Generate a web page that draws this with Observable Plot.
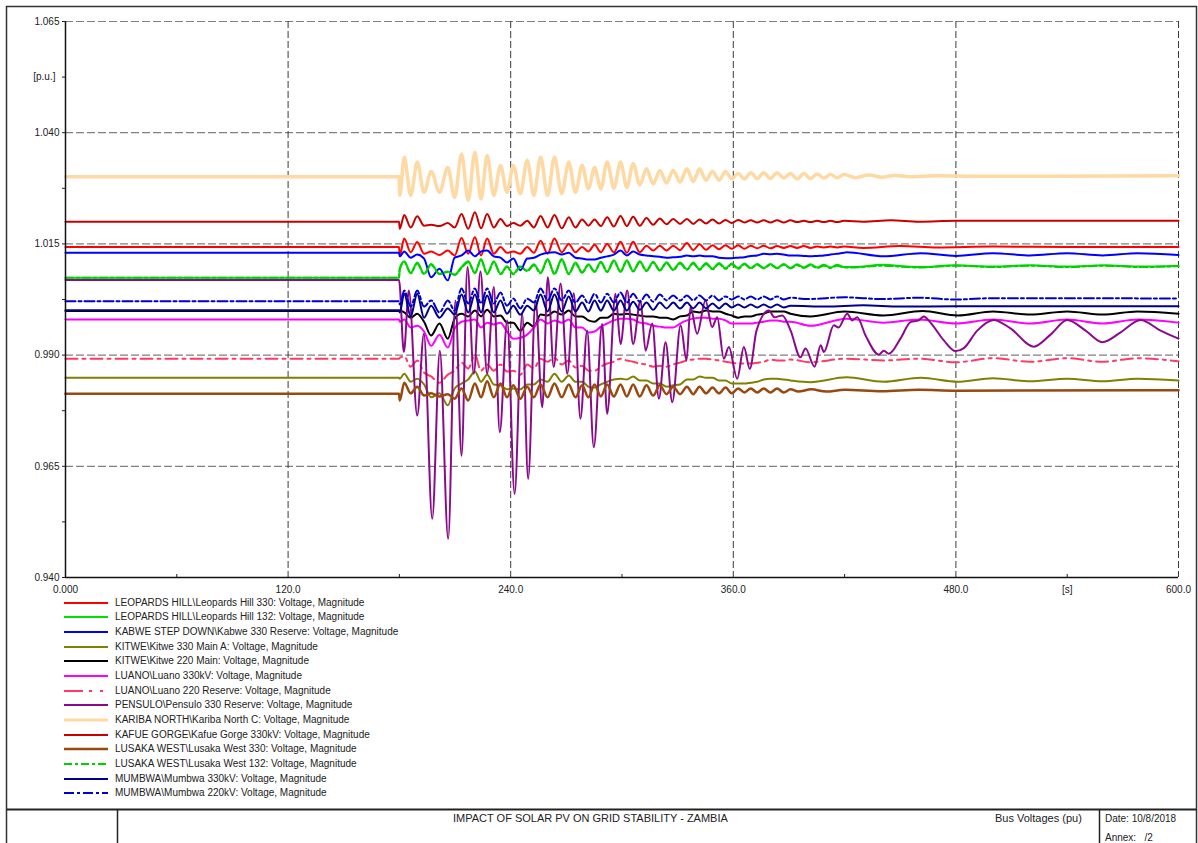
<!DOCTYPE html>
<html><head><meta charset="utf-8">
<script src="https://cdn.jsdelivr.net/npm/d3@7"></script>
<script src="https://cdn.jsdelivr.net/npm/@observablehq/plot@0.6"></script>
<style>
html,body{margin:0;padding:0;background:#fff;}
body{width:1198px;height:843px;position:relative;overflow:hidden;font-family:"Liberation Sans",Arial,sans-serif;color:#222;}
#chart{position:absolute;left:0;top:0;}
#legend{position:absolute;left:0;top:0;width:700px;}
.row{position:absolute;left:0;height:14px;width:600px;}
.row svg{position:absolute;left:64px;top:0;}
.row span{position:absolute;left:115px;top:0;font-size:10px;line-height:14px;white-space:nowrap;}
#frame{position:absolute;left:0;top:0;pointer-events:none;}
.ft{position:absolute;white-space:nowrap;line-height:13px;}
</style></head><body>
<div id="chart"></div>
<div id="legend"></div>
<svg id="frame" width="1198" height="843">
  <rect x="6.5" y="6.5" width="1190" height="850" fill="none" stroke="#333" stroke-width="1.5"/>
  <line x1="6.5" x2="1196.5" y1="809.5" y2="809.5" stroke="#222" stroke-width="2"/>
  <line x1="117.5" x2="117.5" y1="809.5" y2="843" stroke="#222" stroke-width="1.5"/>
  <line x1="1099.5" x2="1099.5" y1="809.5" y2="843" stroke="#222" stroke-width="1.5"/>
</svg>
<div class="ft" style="left:453px;top:812px;font-size:11px;">IMPACT OF SOLAR PV ON GRID STABILITY - ZAMBIA</div>
<div class="ft" style="left:995px;top:812px;font-size:11px;">Bus Voltages (pu)</div>
<div class="ft" style="left:1105px;top:812px;font-size:10px;">Date: 10/8/2018</div>
<div class="ft" style="left:1105px;top:831px;font-size:10px;">Annex:&nbsp;&nbsp; /2</div>
<script>
// ---------- axis ticks ----------
const yTicks = [0.940, 0.965, 0.990, 1.015, 1.040, 1.065];
const yMinor = [1.0525, 1.0275, 1.0025, 0.9775, 0.9525];
const xTicks = [0, 120, 240, 360, 480, 600];
const xMinor = [60, 180, 300, 420, 540];

// ---------- legend labels ----------
const names = [
  "LEOPARDS HILL\\Leopards Hill 330: Voltage, Magnitude",
  "LEOPARDS HILL\\Leopards Hill 132: Voltage, Magnitude",
  "KABWE STEP DOWN\\Kabwe 330 Reserve: Voltage, Magnitude",
  "KITWE\\Kitwe 330 Main A: Voltage, Magnitude",
  "KITWE\\Kitwe 220 Main: Voltage, Magnitude",
  "LUANO\\Luano 330kV: Voltage, Magnitude",
  "LUANO\\Luano 220 Reserve: Voltage, Magnitude",
  "PENSULO\\Pensulo 330 Reserve: Voltage, Magnitude",
  "KARIBA NORTH\\Kariba North C: Voltage, Magnitude",
  "KAFUE GORGE\\Kafue Gorge 330kV: Voltage, Magnitude",
  "LUSAKA WEST\\Lusaka West 330: Voltage, Magnitude",
  "LUSAKA WEST\\Lusaka West 132: Voltage, Magnitude",
  "MUMBWA\\Mumbwa 330kV: Voltage, Magnitude",
  "MUMBWA\\Mumbwa 220kV: Voltage, Magnitude"
];

// ---------- time of oscillation extrema (s) ----------
const T = [180.2, 182.6, 186.1, 189.6, 193.3, 197.1, 201.6, 206.1, 209.8, 213.5,
  217.1, 220.7, 224.0, 227.3, 230.9, 234.5, 238.0, 241.4, 245.2, 248.9,
  252.5, 256.1, 259.9, 263.6, 267.5, 271.3, 274.9, 278.5, 281.9, 285.2,
  288.6, 292.0, 295.6, 299.2, 302.6, 306.0, 309.6, 313.2, 316.8, 320.4,
  324.0, 327.6, 331.3, 335.0, 338.4, 341.8, 345.3, 348.8, 352.3, 355.8,
  359.2, 362.6, 366.0, 369.4, 372.9, 376.4, 380.0, 383.6, 387.2, 390.8,
  394.4, 398.0, 401.6, 405.2, 408.8, 412.4, 416.0, 419.6];

// ---------- pre-fault values (p.u.) ----------
const baseLH330 = 1.0143, baseLH132 = 1.0074, baseKabwe = 1.0130, baseKitwe330 = 0.9849,
      baseKitwe220 = 0.9999, baseLuano330 = 0.9980, baseLuano220 = 0.9892,
      baseKariba = 1.0301, baseKafue = 1.0200, baseLW330 = 0.9813, baseLW132 = 1.0074,
      baseMumbwa330 = 1.0001, baseMumbwa220 = 1.0021;

// ---------- values at T (p.u.) ----------
const lh330Osc = [1.0124, 1.0162, 1.0131, 1.0154, 1.0128, 1.0133, 1.0125, 1.0135, 1.0124, 1.0163, 1.0128, 1.0165, 1.0124, 1.0162, 1.0128, 1.0143, 1.0130, 1.0133, 1.0128, 1.0143, 1.0130, 1.0157, 1.0128, 1.0162, 1.0131, 1.0150, 1.0131, 1.0143, 1.0133, 1.0148, 1.0131, 1.0150, 1.0131, 1.0155, 1.0130, 1.0155, 1.0131, 1.0146, 1.0135, 1.0146, 1.0135, 1.0146, 1.0136, 1.0152, 1.0136, 1.0149, 1.0137, 1.0147, 1.0138, 1.0147, 1.0139, 1.0147, 1.0139, 1.0146, 1.0140, 1.0146, 1.0140, 1.0145, 1.0141, 1.0145, 1.0141, 1.0145, 1.0141, 1.0144, 1.0142, 1.0144, 1.0142, 1.0144];
const lh330Tail = [[430, 1.0141], [450, 1.0145], [470, 1.0142], [500, 1.0144], [540, 1.0143], [600, 1.0143]];

const lh132Osc = [1.0095, 1.0111, 1.0085, 1.0108, 1.0083, 1.0105, 1.0083, 1.0088, 1.0081, 1.0098, 1.0111, 1.0085, 1.0116, 1.0083, 1.0111, 1.0083, 1.0100, 1.0083, 1.0100, 1.0090, 1.0104, 1.0085, 1.0116, 1.0083, 1.0116, 1.0083, 1.0108, 1.0086, 1.0104, 1.0088, 1.0110, 1.0088, 1.0113, 1.0088, 1.0113, 1.0089, 1.0111, 1.0090, 1.0110, 1.0091, 1.0109, 1.0092, 1.0108, 1.0093, 1.0108, 1.0093, 1.0107, 1.0094, 1.0107, 1.0095, 1.0106, 1.0095, 1.0106, 1.0096, 1.0105, 1.0096, 1.0105, 1.0096, 1.0105, 1.0096, 1.0104, 1.0097, 1.0104, 1.0097, 1.0103, 1.0097, 1.0103, 1.0098];
const lh132Tail = [[425, 1.0098], [440, 1.0103], [460, 1.0098], [480, 1.0102], [500, 1.0099], [520, 1.0102], [540, 1.0099], [560, 1.0102], [580, 1.0099], [600, 1.0101]];

const kabweOsc = [1.0122, 1.0133, 1.0119, 1.0126, 1.0117, 1.0075, 1.0094, 1.0068, 1.0119, 1.0124, 1.0135, 1.0122, 1.0133, 1.0135, 1.0122, 1.0119, 1.0108, 1.0117, 1.0091, 1.0117, 1.0119, 1.0126, 1.0130, 1.0131, 1.0126, 1.0130, 1.0119, 1.0117, 1.0115, 1.0115, 1.0119, 1.0122, 1.0126, 1.0135, 1.0124, 1.0133, 1.0126, 1.0124, 1.0122, 1.0121, 1.0119, 1.0120, 1.0121, 1.0124, 1.0122, 1.0124, 1.0122, 1.0122, 1.0119, 1.0118, 1.0118, 1.0119, 1.0120, 1.0123, 1.0124, 1.0128, 1.0127, 1.0128, 1.0126, 1.0124, 1.0124, 1.0123, 1.0122, 1.0123, 1.0124, 1.0126, 1.0128, 1.0130];
const kabweTail = [[421, 1.0131], [441, 1.0122], [461, 1.0129], [480, 1.0123], [500, 1.0129], [520, 1.0124], [540, 1.0129], [559, 1.0124], [578, 1.0129], [600, 1.0125]];

const kitwe330Osc = [0.9847, 0.9858, 0.9840, 0.9847, 0.9834, 0.9805, 0.9814, 0.9787, 0.9825, 0.9836, 0.9845, 0.9863, 0.9840, 0.9856, 0.9834, 0.9832, 0.9823, 0.9825, 0.9823, 0.9834, 0.9834, 0.9845, 0.9840, 0.9858, 0.9840, 0.9854, 0.9840, 0.9840, 0.9829, 0.9827, 0.9834, 0.9840, 0.9845, 0.9847, 0.9845, 0.9852, 0.9843, 0.9843, 0.9836, 0.9836, 0.9829, 0.9832, 0.9834, 0.9845, 0.9845, 0.9852, 0.9849, 0.9849, 0.9843, 0.9843, 0.9836, 0.9836, 0.9836, 0.9838, 0.9840, 0.9845, 0.9847, 0.9847, 0.9845, 0.9843];
const kitwe330Tail = [[401.6, 0.9839], [421, 0.9850], [441, 0.9840], [461, 0.9849], [481, 0.9840], [500, 0.9848], [520, 0.9841], [540, 0.9847], [559, 0.9841], [578, 0.9847], [600, 0.9843]];

const kitwe220Osc = [1.0000, 0.9996, 0.9984, 0.9993, 0.9975, 0.9944, 0.9971, 0.9937, 0.9982, 0.9993, 0.9987, 1.0000, 0.9987, 1.0002, 0.9987, 0.9989, 0.9973, 0.9973, 0.9955, 0.9973, 0.9964, 0.9991, 0.9989, 0.9998, 0.9991, 1.0000, 0.9987, 0.9987, 0.9978, 0.9975, 0.9984, 0.9984, 0.9993, 0.9991, 0.9993, 0.9991, 0.9989, 0.9987, 0.9987, 0.9984, 0.9984, 0.9980, 0.9987, 0.9989, 0.9998, 0.9996, 1.0000, 0.9998, 0.9998, 0.9993, 0.9989, 0.9984, 0.9987, 0.9987, 0.9991, 0.9993, 0.9998, 0.9998, 0.9998, 0.9993];
const kitwe220Tail = [[401.6, 0.9987], [420, 0.9998], [441, 0.9989], [462, 0.9999], [481, 0.9989], [500, 0.9998], [520, 0.9991], [540, 0.9998], [559, 0.9991], [578, 0.9998], [600, 0.9993]];

const luano330Osc = [0.9975, 0.9980, 0.9962, 0.9966, 0.9953, 0.9921, 0.9946, 0.9917, 0.9960, 0.9975, 0.9978, 0.9980, 0.9962, 0.9973, 0.9969, 0.9973, 0.9953, 0.9937, 0.9939, 0.9946, 0.9962, 0.9980, 0.9971, 0.9978, 0.9973, 0.9980, 0.9962, 0.9962, 0.9951, 0.9953, 0.9964, 0.9971, 0.9978, 0.9982, 0.9982, 0.9980, 0.9973, 0.9971, 0.9966, 0.9964, 0.9962, 0.9962, 0.9971, 0.9978, 0.9982, 0.9984, 0.9984, 0.9982, 0.9982, 0.9978, 0.9971, 0.9971, 0.9971, 0.9971, 0.9973, 0.9975, 0.9978, 0.9978, 0.9975, 0.9975];
const luano330Tail = [[401.6, 0.9966], [421, 0.9982], [441, 0.9973], [460, 0.9980], [480, 0.9971], [500, 0.9980], [520, 0.9971], [540, 0.9980], [559, 0.9971], [578, 0.9980], [600, 0.9973]];

const luano220Osc = [0.9894, 0.9897, 0.9874, 0.9888, 0.9861, 0.9852, 0.9838, 0.9856, 0.9865, 0.9883, 0.9870, 0.9901, 0.9865, 0.9879, 0.9865, 0.9879, 0.9863, 0.9865, 0.9856, 0.9879, 0.9870, 0.9892, 0.9885, 0.9894, 0.9879, 0.9888, 0.9872, 0.9876, 0.9865, 0.9865, 0.9874, 0.9881, 0.9885, 0.9892, 0.9888, 0.9885, 0.9881, 0.9879, 0.9874, 0.9876, 0.9874, 0.9879, 0.9883, 0.9888, 0.9890, 0.9892, 0.9892, 0.9890, 0.9888, 0.9885, 0.9883, 0.9881, 0.9881, 0.9881, 0.9883, 0.9885, 0.9890, 0.9888, 0.9888, 0.9890];
const luano220Tail = [[401.6, 0.9884], [421, 0.9892], [441, 0.9888], [460, 0.9892], [480, 0.9884], [500, 0.9893], [520, 0.9885], [540, 0.9893], [559, 0.9885], [578, 0.9893], [600, 0.9886]];

const pensuloPts = [[0, 1.0069], [179.8, 1.0069], [182.4, 0.9907], [185.1, 1.0045], [189.6, 0.9764], [193.2, 0.9948], [197.7, 0.9532], [201.8, 0.9910], [206.3, 0.9487], [210.2, 1.0023], [213.5, 0.9674], [216.7, 1.0098], [220.1, 0.9858], [223.7, 1.0088], [227.3, 0.9858], [230.9, 1.0053], [234.1, 0.9727], [238.1, 0.9978], [242.1, 0.9588], [246.2, 0.9993], [249.4, 0.9622], [253.4, 1.0023], [257.0, 0.9783], [260.0, 1.0075], [263.2, 0.9873], [266.9, 1.0061], [270.5, 0.9858], [274.0, 1.0039], [277.6, 0.9757], [281.2, 0.9955], [284.8, 0.9693], [289.3, 0.9970], [292.0, 0.9768], [296.5, 1.0038], [299.2, 0.9925], [302.8, 1.0045], [306.0, 0.9925], [310.0, 1.0023], [312.7, 0.9910], [316.3, 0.9971], [319.9, 0.9802], [323.5, 0.9929], [327.1, 0.9794], [331.6, 0.9967], [334.8, 0.9888], [336.9, 1.0008], [340.5, 0.9948], [345.0, 1.0023], [348.6, 0.9963], [351.3, 0.9985], [354.9, 0.9892], [357.6, 0.9918], [362.1, 0.9847], [365.7, 0.9918], [368.9, 0.9869], [372.5, 0.9955], [379.2, 1.0000], [382.2, 0.9985], [386.4, 0.9989], [390.9, 0.9955], [396.2, 0.9895], [398.9, 0.9915], [403.8, 0.9874], [407.1, 0.9922], [408.8, 0.9907], [414.2, 0.9967], [416.7, 0.9962], [421.4, 0.9993], [424.1, 0.9978], [426.8, 0.9985], [431.3, 0.9944], [438.5, 0.9901], [441.1, 0.9910], [443.9, 0.9903], [450.1, 0.9937], [455.5, 0.9974], [459.9, 0.9978], [462.7, 0.9987], [466.3, 0.9973], [473.5, 0.9933], [479.8, 0.9909], [484.1, 0.9915], [491.5, 0.9955], [500.4, 0.9979], [509.4, 0.9960], [522.0, 0.9919], [531.0, 0.9946], [540.0, 0.9979], [549.9, 0.9955], [558.9, 0.9929], [568.8, 0.9951], [579.5, 0.9979], [590.3, 0.9955], [600, 0.9937]];

const karibaOsc = [1.0259, 1.0345, 1.0259, 1.0334, 1.0266, 1.0313, 1.0266, 1.0322, 1.0255, 1.0352, 1.0248, 1.0356, 1.0251, 1.0349, 1.0259, 1.0326, 1.0266, 1.0326, 1.0263, 1.0338, 1.0259, 1.0345, 1.0259, 1.0345, 1.0263, 1.0334, 1.0266, 1.0326, 1.0274, 1.0322, 1.0274, 1.0334, 1.0275, 1.0334, 1.0277, 1.0330, 1.0283, 1.0319, 1.0285, 1.0315, 1.0287, 1.0315, 1.0289, 1.0319, 1.0290, 1.0319, 1.0293, 1.0313, 1.0293, 1.0313, 1.0296, 1.0308, 1.0296, 1.0310, 1.0297, 1.0310, 1.0297, 1.0310, 1.0298, 1.0308, 1.0296, 1.0308, 1.0297, 1.0307, 1.0298, 1.0306, 1.0299, 1.0306];
const karibaTail = [[426, 1.0299], [433, 1.0305], [440, 1.0300], [447, 1.0304], [455, 1.0301], [470, 1.0303], [490, 1.0302], [600, 1.0303]];

const kafueOsc = [1.0184, 1.0215, 1.0187, 1.0212, 1.0191, 1.0193, 1.0190, 1.0197, 1.0187, 1.0217, 1.0184, 1.0221, 1.0185, 1.0217, 1.0187, 1.0206, 1.0190, 1.0197, 1.0191, 1.0202, 1.0187, 1.0213, 1.0187, 1.0215, 1.0185, 1.0210, 1.0187, 1.0205, 1.0191, 1.0205, 1.0190, 1.0210, 1.0189, 1.0213, 1.0190, 1.0211, 1.0191, 1.0208, 1.0193, 1.0207, 1.0194, 1.0206, 1.0195, 1.0206, 1.0195, 1.0205, 1.0196, 1.0205, 1.0196, 1.0204, 1.0197, 1.0204, 1.0198, 1.0203, 1.0198, 1.0203, 1.0198, 1.0203, 1.0198, 1.0203, 1.0199, 1.0202, 1.0199, 1.0202, 1.0199, 1.0202, 1.0199, 1.0202];
const kafueTail = [[430, 1.0200], [445, 1.0203], [460, 1.0200], [480, 1.0202], [600, 1.0202]];

const lw330Osc = [0.9798, 0.9838, 0.9814, 0.9829, 0.9809, 0.9814, 0.9807, 0.9812, 0.9802, 0.9825, 0.9798, 0.9836, 0.9805, 0.9841, 0.9805, 0.9836, 0.9805, 0.9832, 0.9802, 0.9829, 0.9805, 0.9834, 0.9805, 0.9836, 0.9805, 0.9834, 0.9805, 0.9832, 0.9805, 0.9834, 0.9807, 0.9834, 0.9807, 0.9834, 0.9807, 0.9834, 0.9807, 0.9832, 0.9809, 0.9832, 0.9812, 0.9829, 0.9812, 0.9829, 0.9812, 0.9829, 0.9814, 0.9827, 0.9814, 0.9827, 0.9814, 0.9825, 0.9816, 0.9825, 0.9816, 0.9825, 0.9816, 0.9825, 0.9816, 0.9823];
const lw330Tail = [[395, 0.9818], [402, 0.9823], [410, 0.9818], [420, 0.9822], [440, 0.9819], [460, 0.9822], [480, 0.9820], [600, 0.9821]];

const lw132Osc = [1.0093, 1.0109, 1.0084, 1.0106, 1.0082, 1.0103, 1.0082, 1.0087, 1.0080, 1.0096, 1.0109, 1.0084, 1.0114, 1.0082, 1.0109, 1.0082, 1.0098, 1.0082, 1.0098, 1.0089, 1.0102, 1.0084, 1.0114, 1.0082, 1.0114, 1.0082, 1.0106, 1.0085, 1.0102, 1.0087, 1.0108, 1.0087, 1.0111, 1.0087, 1.0111, 1.0088, 1.0109, 1.0089, 1.0108, 1.0090, 1.0107, 1.0091, 1.0106, 1.0092, 1.0106, 1.0092, 1.0105, 1.0093, 1.0105, 1.0094, 1.0104, 1.0094, 1.0104, 1.0095, 1.0103, 1.0095, 1.0103, 1.0095, 1.0103, 1.0095, 1.0102, 1.0096, 1.0102, 1.0096, 1.0101, 1.0096, 1.0101, 1.0097];
const lw132Tail = [[425, 1.0097], [440, 1.0101], [460, 1.0097], [480, 1.0101], [500, 1.0098], [520, 1.0101], [540, 1.0098], [560, 1.0101], [580, 1.0098], [600, 1.0100]];

const mumbwa330Osc = [0.9996, 1.0038, 0.9987, 1.0038, 0.9984, 1.0011, 0.9984, 1.0005, 0.9991, 1.0036, 0.9996, 1.0036, 0.9996, 1.0034, 0.9996, 1.0023, 0.9993, 1.0011, 0.9991, 1.0011, 1.0000, 1.0036, 0.9998, 1.0036, 0.9998, 1.0032, 0.9998, 1.0018, 0.9998, 1.0023, 1.0000, 1.0023, 1.0000, 1.0023, 1.0000, 1.0020, 1.0002, 1.0018, 1.0002, 1.0018, 1.0005, 1.0018, 1.0005, 1.0018, 1.0005, 1.0018, 1.0005, 1.0016, 1.0005, 1.0016, 1.0007, 1.0014, 1.0007, 1.0014, 1.0007, 1.0014, 1.0007, 1.0014, 1.0007, 1.0011];
const mumbwa330Tail = [[410, 1.0009], [430, 1.0012], [450, 1.0009], [480, 1.0010], [600, 1.0010]];

const mumbwa220Osc = [1.0014, 1.0045, 1.0009, 1.0045, 1.0009, 1.0023, 0.9996, 1.0023, 1.0000, 1.0050, 1.0016, 1.0050, 1.0016, 1.0050, 1.0016, 1.0041, 1.0011, 1.0027, 1.0005, 1.0027, 1.0018, 1.0050, 1.0023, 1.0050, 1.0023, 1.0045, 1.0018, 1.0034, 1.0016, 1.0038, 1.0018, 1.0038, 1.0018, 1.0041, 1.0018, 1.0038, 1.0020, 1.0036, 1.0020, 1.0036, 1.0023, 1.0034, 1.0023, 1.0034, 1.0023, 1.0034, 1.0023, 1.0034, 1.0023, 1.0032, 1.0025, 1.0032, 1.0025, 1.0032, 1.0025, 1.0032, 1.0025, 1.0032, 1.0025, 1.0029];
const mumbwa220Tail = [[400, 1.0026], [420, 1.0030], [440, 1.0026], [460, 1.0029], [480, 1.0025], [500, 1.0028], [540, 1.0028], [600, 1.0027]];

// ---------- styles ----------
const colors = ["#ff0000", "#00e000", "#0000ff", "#808000", "#000000", "#ff00ff", "#ff3a64",
  "#8b0a8b", "#ffd9a3", "#c80000", "#99480f", "#00d000", "#00008b", "#0000cc"];
const widths = [2, 2, 2, 2, 2, 2, 2, 2, 3.5, 2, 2.5, 2, 2, 2];
const dashes = [null, null, null, null, null, null, "12,5,3,5", null, null, null, null, "8,3,3,3", null, "10,3,3,3"];

function build(base, osc, tail) {
  const pts = [[0, base], [179.8, base]];
  osc.forEach((v, i) => { if (i < T.length) pts.push([T[i], v]); });
  tail.forEach(p => pts.push(p));
  return pts;
}

const seriesData = [
  build(baseLH330, lh330Osc, lh330Tail),
  build(baseLH132, lh132Osc, lh132Tail),
  build(baseKabwe, kabweOsc, kabweTail),
  build(baseKitwe330, kitwe330Osc, kitwe330Tail),
  build(baseKitwe220, kitwe220Osc, kitwe220Tail),
  build(baseLuano330, luano330Osc, luano330Tail),
  build(baseLuano220, luano220Osc, luano220Tail),
  pensuloPts,
  build(baseKariba, karibaOsc, karibaTail),
  build(baseKafue, kafueOsc, kafueTail),
  build(baseLW330, lw330Osc, lw330Tail),
  build(baseLW132, lw132Osc, lw132Tail),
  build(baseMumbwa330, mumbwa330Osc, mumbwa330Tail),
  build(baseMumbwa220, mumbwa220Osc, mumbwa220Tail)
];

const lineMarks = seriesData.map((d, i) => Plot.line(d, {
  x: p => p[0], y: p => p[1], stroke: colors[i], strokeWidth: widths[i],
  strokeDasharray: dashes[i] || undefined, curve: "monotone-x", strokeLinejoin: "round"
}));

const chart = Plot.plot({
  width: 1198, height: 600,
  marginLeft: 65, marginRight: 20, marginTop: 21, marginBottom: 23,
  style: {fontFamily: "'Liberation Sans', Arial, sans-serif", fontSize: "10px", color: "#222", background: "transparent", overflow: "visible"},
  x: {domain: [0, 600]},
  y: {domain: [0.94, 1.065]},
  marks: [
    Plot.ruleY(yTicks.filter(v => v > 0.94), {stroke: "#808080", strokeDasharray: "8,3", strokeWidth: 1.2}),
    Plot.ruleX(xTicks.filter(v => v > 0), {stroke: "#3a3a3a", strokeDasharray: "7,3", strokeWidth: 1}),
    ...lineMarks,
    Plot.ruleX([0], {stroke: "#111", strokeWidth: 1.5}),
    Plot.ruleY([0.94], {stroke: "#111", strokeWidth: 1.5}),
    Plot.axisY({ticks: yTicks, tickFormat: d => d.toFixed(3), tickSize: 3, tickPadding: 3, fontSize: 10, label: null}),
    Plot.axisY({ticks: yMinor, tickFormat: d => d === 1.0525 ? "[p.u.]" : "", tickSize: 3, tickPadding: 7, fontSize: 10, label: null}),
    Plot.axisX({ticks: xTicks, tickFormat: d => d === 0 ? "0.000" : d.toFixed(1), tickSize: 0, tickPadding: 8, fontSize: 10, label: null}),
    Plot.axisX({ticks: xMinor, tickFormat: d => d === 540 ? "[s]" : "", tickSize: 3, tickPadding: 8, dy: -3, fontSize: 10, label: null})
  ]
});
document.getElementById("chart").appendChild(chart);

// ---------- legend ----------
const legend = d3.select("#legend");
names.forEach((name, i) => {
  const row = legend.append("div").attr("class", "row").style("top", (595.7 + i * 14.667) + "px");
  const svg = row.append("svg").attr("width", 44).attr("height", 14);
  svg.append("line").attr("x1", 0).attr("x2", 44).attr("y1", 7).attr("y2", 7)
    .attr("stroke", colors[i]).attr("stroke-width", Math.min(widths[i], 3))
    .attr("stroke-dasharray", dashes[i] ? (i === 6 ? "19,6,3,8,3,5" : dashes[i]) : null);
  row.append("span").text(name);
});
</script>
</body></html>
